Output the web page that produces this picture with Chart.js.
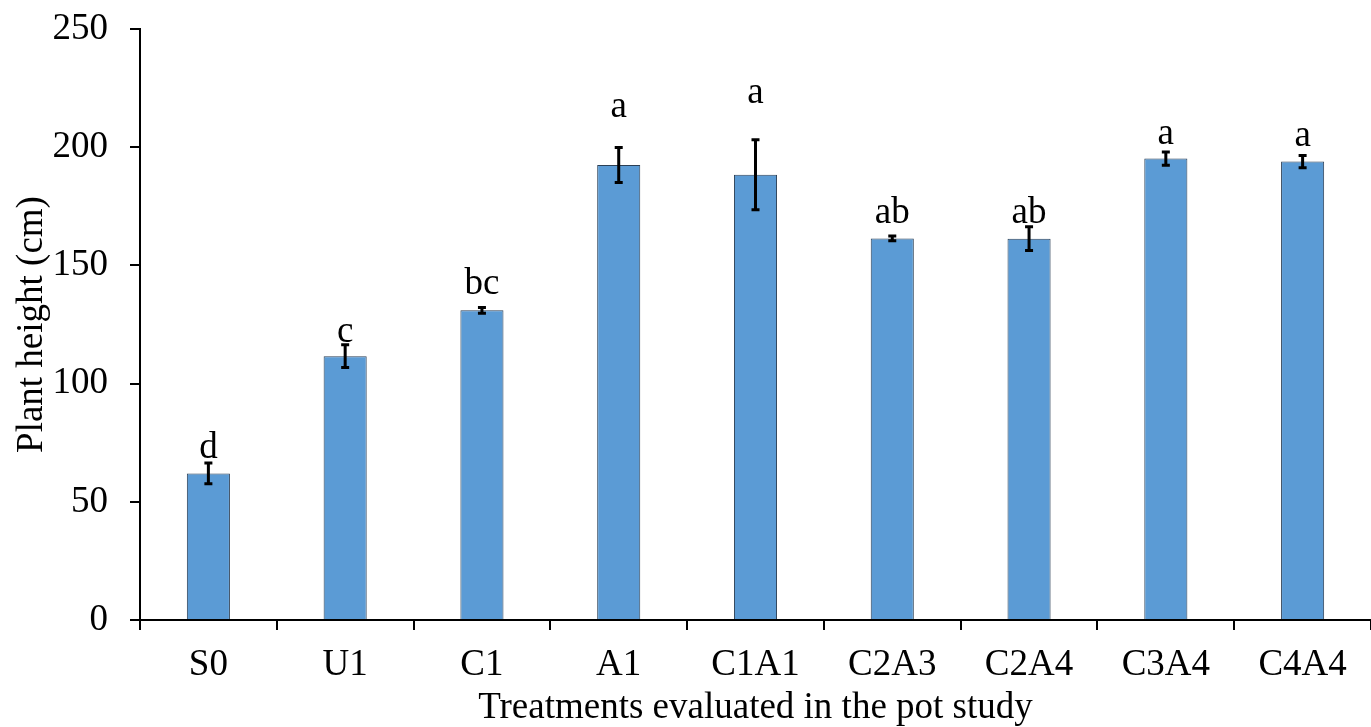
<!DOCTYPE html>
<html>
<head>
<meta charset="utf-8">
<script src="https://cdn.jsdelivr.net/npm/chart.js@4/dist/chart.umd.min.js"></script>
<style>
  html, body { margin: 0; padding: 0; background: #fff; }
  canvas { display: block; }
</style>
</head>
<body>
<canvas id="barChart" width="1371" height="727"></canvas>
<script>
// data
let treatments = ['S0', 'U1', 'C1', 'A1', 'C1A1', 'C2A3', 'C2A4', 'C3A4', 'C4A4'];
let plantHeight = [62, 111.6, 131, 192.5, 188.3, 161.4, 161.3, 195.2, 193.9];
let stdErr = [4.4, 4.8, 1.2, 7.4, 14.8, 1, 5, 2.8, 2.6];
let letters = ['d', 'c', 'bc', 'a', 'a', 'ab', 'ab', 'a', 'a'];

// gap (px) between the top of each error bar and its letter
let letterGap = [5, 3, 13, 30, 37, 13, 4, 8, 9];

const serif = "'Liberation Serif', 'Times New Roman', serif";

// error bars + significance letters
const errorBars = {
  id: 'errorBars',
  afterDatasetsDraw(chart) {
    const ctx = chart.ctx;
    const yScale = chart.scales.y;
    const meta = chart.getDatasetMeta(0);
    ctx.save();
    ctx.strokeStyle = '#000';
    ctx.lineWidth = 3;
    meta.data.forEach((bar, i) => {
      const x = bar.x;
      const top = yScale.getPixelForValue(plantHeight[i] + stdErr[i]);
      const bottom = yScale.getPixelForValue(plantHeight[i] - stdErr[i]);
      ctx.beginPath();
      ctx.moveTo(x, top);
      ctx.lineTo(x, bottom);
      ctx.moveTo(x - 4, top);
      ctx.lineTo(x + 4, top);
      ctx.moveTo(x - 4, bottom);
      ctx.lineTo(x + 4, bottom);
      ctx.stroke();

      ctx.fillStyle = '#000';
      ctx.font = '37px ' + serif;
      ctx.textAlign = 'center';
      ctx.textBaseline = 'alphabetic';
      ctx.fillText(letters[i], x, top - letterGap[i]);
    });
    ctx.restore();
  }
};

var ctx = document.getElementById('barChart').getContext('2d');
var barChart = new Chart(ctx, {
  type: 'bar',
  data: {
    labels: treatments,
    datasets: [{
      label: 'Plant height',
      data: plantHeight,
      backgroundColor: '#5b9bd5',
      borderColor: '#2b3f55',
      borderWidth: 1,
      categoryPercentage: 1,
      barPercentage: 0.315
    }]
  },
  options: {
    responsive: false,
    animation: false,
    layout: { padding: { top: 29, right: 0, left: 0, bottom: 0 } },
    plugins: {
      legend: { display: false },
      tooltip: { enabled: false }
    },
    scales: {
      x: {
        afterFit: scale => {
          scale.height = 107;
          scale.paddingLeft = 0;
          scale.paddingRight = 0;
        },
        grid: {
          drawOnChartArea: false,
          drawTicks: true,
          tickLength: 10,
          color: '#000',
          lineWidth: 2,
          offset: true
        },
        border: { display: true, color: '#000', width: 2 },
        ticks: {
          color: '#000',
          padding: 13,
          maxRotation: 0,
          font: { family: serif, size: 37 }
        },
        title: {
          display: true,
          text: 'Treatments evaluated in the pot study',
          color: '#000',
          padding: 0,
          font: { family: serif, size: 37, lineHeight: 1.0 }
        }
      },
      y: {
        min: 0,
        max: 250,
        afterFit: scale => {
          scale.width = 140;
          scale.paddingTop = 0;
          scale.paddingBottom = 0;
        },
        grid: {
          drawOnChartArea: false,
          drawTicks: true,
          tickLength: 10,
          color: '#000',
          lineWidth: 2
        },
        border: { display: true, color: '#000', width: 2 },
        ticks: {
          stepSize: 50,
          color: '#000',
          padding: 22,
          font: { family: serif, size: 37 }
        },
        title: {
          display: true,
          text: 'Plant height (cm)',
          color: '#000',
          padding: { top: 10, bottom: 0 },
          font: { family: serif, size: 37 }
        }
      }
    }
  },
  plugins: [errorBars]
});
</script>
</body>
</html>
